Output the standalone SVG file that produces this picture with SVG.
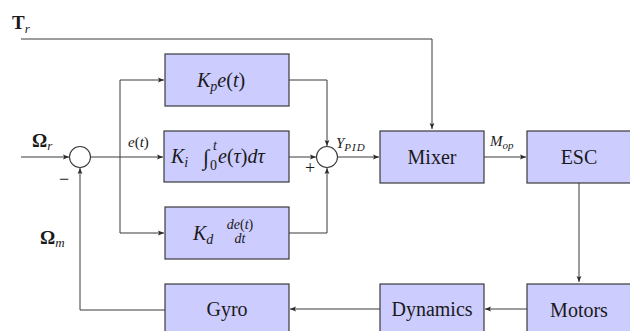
<svg xmlns="http://www.w3.org/2000/svg" width="630" height="331" viewBox="0 0 630 331">
<defs>
<marker id="arr" viewBox="0 0 6 6" refX="6" refY="3" markerWidth="6" markerHeight="6" markerUnits="userSpaceOnUse" orient="auto">
<path d="M0,0.6 L6,3 L0,5.4 L1.2,3 Z" fill="#2b2b2b"/>
</marker>
<style>
.box{fill:#ccccff;stroke:#3a3a3a;stroke-width:1.2}
.ln{fill:none;stroke:#3a3a3a;stroke-width:1}
.sum{fill:#ffffff;stroke:#3a3a3a;stroke-width:1.1}
</style>
</defs>
<rect width="630" height="331" fill="#ffffff"/>

<g id="connectors">
<path class="ln" d="M21,39 H432 V129" marker-end="url(#arr)"/>
<path class="ln" d="M21,157 H69" marker-end="url(#arr)"/>
<path class="ln" d="M90,157 H163" marker-end="url(#arr)"/>
<path class="ln" d="M120,157 V80 H164" marker-end="url(#arr)"/>
<path class="ln" d="M120,157 V233 H164" marker-end="url(#arr)"/>
<path class="ln" d="M289,80 H327 V146" marker-end="url(#arr)"/>
<path class="ln" d="M289,157 H316" marker-end="url(#arr)"/>
<path class="ln" d="M289,233 H327 V168" marker-end="url(#arr)"/>
<path class="ln" d="M338,157 H379" marker-end="url(#arr)"/>
<path class="ln" d="M484,157 H526" marker-end="url(#arr)"/>
<path class="ln" d="M579,183 V282" marker-end="url(#arr)"/>
<path class="ln" d="M527,309 H485" marker-end="url(#arr)"/>
<path class="ln" d="M380,309 H290" marker-end="url(#arr)"/>
<path class="ln" d="M165,310 H80 V168" marker-end="url(#arr)"/>
</g>

<g id="sum1"><circle class="sum" cx="80" cy="157" r="10.5"/></g>
<g id="sum2"><circle class="sum" cx="327" cy="157" r="10.5"/></g>

<g id="Kp">
<rect class="box" x="165" y="54" width="124" height="52"/>
<text font-family="Liberation Serif" fill="#1a1a1a" font-style="italic" x="197" y="87" font-size="20">K<tspan font-size="14" dy="4">p</tspan><tspan dy="-4">e</tspan><tspan font-style="normal">(</tspan>t<tspan font-style="normal">)</tspan></text>
</g>

<g id="Ki">
<rect class="box" x="164" y="131" width="125" height="51"/>
<text font-family="Liberation Serif" fill="#1a1a1a" font-style="italic" x="171" y="163" font-size="20">K<tspan font-size="14" dy="4">i</tspan></text>
<text font-family="Liberation Serif" fill="#1a1a1a" x="203" y="165" font-size="22">&#x222B;</text>
<text font-family="Liberation Serif" fill="#1a1a1a" x="210" y="170" font-size="14">0</text>
<text font-family="Liberation Serif" fill="#1a1a1a" font-style="italic" x="213" y="150" font-size="14">t</text>
<text font-family="Liberation Serif" fill="#1a1a1a" font-style="italic" x="218" y="163" font-size="20">e<tspan font-style="normal">(</tspan>&#x3C4;<tspan font-style="normal">)</tspan>d&#x3C4;</text>
</g>

<g id="Kd">
<rect class="box" x="165" y="207" width="124" height="52"/>
<text font-family="Liberation Serif" fill="#1a1a1a" font-style="italic" x="193" y="240" font-size="20">K<tspan font-size="14" dy="4">d</tspan></text>
<text font-family="Liberation Serif" fill="#1a1a1a" font-style="italic" x="240" y="229" font-size="14" text-anchor="middle">de<tspan font-style="normal">(</tspan>t<tspan font-style="normal">)</tspan></text>
<text font-family="Liberation Serif" fill="#1a1a1a" font-style="italic" x="240" y="243" font-size="14" text-anchor="middle">dt</text>
</g>

<g id="Mixer">
<rect class="box" x="380" y="131" width="104" height="52"/>
<text font-family="Liberation Serif" fill="#1a1a1a" font-size="20" x="432" y="164" text-anchor="middle">Mixer</text>
</g>

<g id="ESC">
<rect class="box" x="527" y="131" width="104" height="52"/>
<text font-family="Liberation Serif" fill="#1a1a1a" font-size="20" x="579" y="164" text-anchor="middle">ESC</text>
</g>

<g id="Motors">
<rect class="box" x="527" y="284" width="104" height="52"/>
<text font-family="Liberation Serif" fill="#1a1a1a" font-size="20" x="579" y="317" text-anchor="middle">Motors</text>
</g>

<g id="Dynamics">
<rect class="box" x="380" y="284" width="104" height="52"/>
<text font-family="Liberation Serif" fill="#1a1a1a" font-size="20" x="432" y="316" text-anchor="middle">Dynamics</text>
</g>

<g id="Gyro">
<rect class="box" x="165" y="284" width="124" height="52"/>
<text font-family="Liberation Serif" fill="#1a1a1a" font-size="20" x="227" y="316" text-anchor="middle">Gyro</text>
</g>

<g id="labels" fill="#1a1a1a">
<text font-family="Liberation Serif" font-weight="bold" x="12" y="29" font-size="19">T<tspan font-style="italic" font-weight="normal" font-size="13" dy="4">r</tspan></text>
<text font-family="Liberation Serif" font-weight="bold" x="32" y="147" font-size="19">&#x3A9;<tspan font-style="italic" font-weight="normal" font-size="13" dy="3">r</tspan></text>
<text font-family="Liberation Serif" font-weight="bold" x="40" y="244" font-size="19">&#x3A9;<tspan font-style="italic" font-weight="normal" font-size="13" dy="3">m</tspan></text>
<text font-family="Liberation Serif" font-style="italic" x="128" y="147" font-size="15">e<tspan font-style="normal">(</tspan>t<tspan font-style="normal">)</tspan></text>
<text font-family="Liberation Serif" font-style="italic" x="336" y="148" font-size="15">Y<tspan font-size="11" dy="3" letter-spacing="1">PID</tspan></text>
<text font-family="Liberation Serif" font-style="italic" x="490" y="146" font-size="15">M<tspan font-size="11" dy="3">op</tspan></text>
<text font-family="Liberation Serif" x="64" y="185" font-size="18" text-anchor="middle">&#x2212;</text>
<text font-family="Liberation Serif" x="310" y="174" font-size="18" text-anchor="middle">+</text>
</g>
</svg>
